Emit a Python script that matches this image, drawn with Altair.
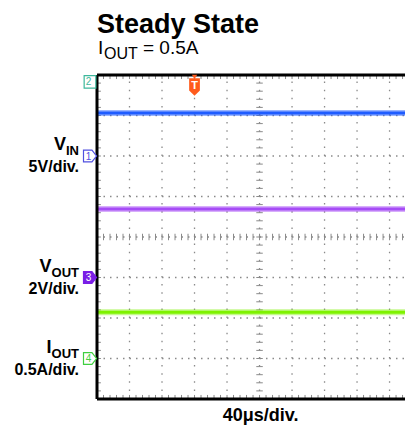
import altair as alt
import pandas as pd

# ---------------- values (scope screenshot) ----------------
trace_names = ["VIN", "VOUT", "IOUT"]
trace_levels = [5.3, 3.38, 0.57]           # V, V, A  (flat steady-state traces)
trace_per_div = [5.0, 2.0, 0.5]            # channel scale per division
trace_ground_div = [2.0, -1.0, -3.0]       # channel ground markers (divisions)
trace_colors = ["#1f5cff", "#a64cf6", "#7ef200"]
time_span_us = [0.0, 379.0]                # visible part of the 40us/div sweep

grid_time_us = [40, 80, 120, 160, 200, 240, 280, 320, 360]
grid_div = [-3, -2, -1, 0, 1, 2, 3]

marker_ids = ["2", "1", "3", "4"]
marker_div = [3.83, 2.0, -1.0, -3.0]
marker_colors = ["#3db89c", "#5050e0", "#7a1ee6", "#3fcf3f"]
marker_fills = ["white", "white", "#7a1ee6", "white"]
marker_text_colors = ["#3db89c", "#5050e0", "white", "#3fcf3f"]

label_main = ["V", "V", "I"]
label_sub = ["IN", "OUT", "OUT"]
label_scale = ["5V/div.", "2V/div.", "0.5A/div."]
label_ground_div = [2.0, -1.0, -3.0]

trigger_us = [120.0]

title_text = "Steady State"
subtitle_parts = ["I", "OUT", "= 0.5A"]
time_div_text = "40\u03bcs/div."

# ---------------- layout helpers ----------------
PLOT_W, PLOT_H = 308, 324
T_END = time_span_us[1]
US_PER_PX = T_END / PLOT_W
FONT = "Liberation Sans"

xs = alt.Scale(domain=[0, T_END], nice=False, zero=False)
ys = alt.Scale(domain=[-4, 4], nice=False, zero=False)


def X(f):
    return alt.X(f, scale=xs, axis=None)


def Y(f):
    return alt.Y(f, scale=ys, axis=None)


# dotted graticule
gv = pd.DataFrame({"x": grid_time_us, "x2": grid_time_us,
                   "y": [-4.0] * len(grid_time_us), "y2": [4.0] * len(grid_time_us)})
gh = pd.DataFrame({"x": [0.0] * len(grid_div), "x2": [T_END] * len(grid_div),
                   "y": grid_div, "y2": grid_div})
grid_v = alt.Chart(gv).mark_rule(color="#8a8a8a", strokeWidth=1.3, strokeDash=[1.5, 6.6]).encode(
    x=X("x:Q"), x2="x2:Q", y=Y("y:Q"), y2="y2:Q")
grid_h = alt.Chart(gh).mark_rule(color="#8a8a8a", strokeWidth=1.3, strokeDash=[1.5, 5.0]).encode(
    x=X("x:Q"), x2="x2:Q", y=Y("y:Q"), y2="y2:Q")

# minor division ticks (center cross and borders)
minor_x = [i * 8.0 for i in range(48)]
minor_y = [-4 + i * 0.2 for i in range(41)]
tk = []
for mx in minor_x:
    tk.append({"x": mx, "x2": mx, "y": -0.08, "y2": 0.08})
    tk.append({"x": mx, "x2": mx, "y": 4.0, "y2": 3.9})
    tk.append({"x": mx, "x2": mx, "y": -4.0, "y2": -3.9})
for my in minor_y:
    tk.append({"x": 196.0, "x2": 204.0, "y": my, "y2": my})
    tk.append({"x": 0.0, "x2": 4.8, "y": my, "y2": my})
ticks = alt.Chart(pd.DataFrame(tk)).mark_rule(color="#8a8a8a", strokeWidth=1).encode(
    x=X("x:Q"), x2="x2:Q", y=Y("y:Q"), y2="y2:Q")

# traces
rows = []
for n, lvl, pdv, g, c in zip(trace_names, trace_levels, trace_per_div, trace_ground_div, trace_colors):
    for t in time_span_us:
        rows.append({"name": n, "t": t, "pos": g + lvl / pdv, "color": c})
traces = pd.DataFrame(rows)
halo = alt.Chart(traces).mark_line(strokeWidth=6, opacity=0.45, clip=True).encode(
    x=X("t:Q"), y=Y("pos:Q"), color=alt.Color("color:N", scale=None), detail="name:N")
core = alt.Chart(traces).mark_line(strokeWidth=3, clip=True).encode(
    x=X("t:Q"), y=Y("pos:Q"), color=alt.Color("color:N", scale=None), detail="name:N")

# frame (left, top, bottom)
frame = alt.Chart(pd.DataFrame([
    {"x": 0.0, "x2": 0.0, "y": -4.0, "y2": 4.0},
    {"x": 0.0, "x2": T_END, "y": 4.0, "y2": 4.0},
    {"x": 0.0, "x2": T_END, "y": -4.0, "y2": -4.0},
])).mark_rule(color="black", strokeWidth=3).encode(
    x=X("x:Q"), x2="x2:Q", y=Y("y:Q"), y2="y2:Q")

# channel markers
pent = "M-1,-0.9 L0.3,-0.9 L1,0 L0.3,0.9 L-1,0.9 Z"
box = "M-0.9,-0.95 L0.9,-0.95 L0.9,0.95 L-0.9,0.95 Z"
mk = pd.DataFrame({
    "id": marker_ids, "pos": marker_div, "stroke": marker_colors,
    "fill": marker_fills, "tcolor": marker_text_colors,
    "shape": [box, pent, pent, pent],
    "x": [-7 * US_PER_PX] * 4, "tx": [-8.5 * US_PER_PX] * 4,
})
markers = alt.Chart(mk).mark_point(filled=True, size=169, strokeWidth=1.2, opacity=1).encode(
    x=X("x:Q"), y=Y("pos:Q"),
    shape=alt.Shape("shape:N", scale=None),
    fill=alt.Fill("fill:N", scale=None),
    stroke=alt.Stroke("stroke:N", scale=None),
)
marker_txt = alt.Chart(mk).mark_text(font=FONT, fontSize=10, baseline="middle", align="center", dy=0.5).encode(
    x=X("tx:Q"), y=Y("pos:Q"), text="id:N", color=alt.Color("tcolor:N", scale=None))

# trigger marker
trig = pd.DataFrame({"t": trigger_us, "lab": ["T"]})
shield = "M-0.62,-1 L0.62,-1 L0.62,0.4 L0,1 L-0.62,0.4 Z"
trig_mark = alt.Chart(trig).mark_point(filled=True, size=300, shape=shield, color="#ff5b1c", opacity=1).encode(
    x=X("t:Q"), y=alt.value(12))
trig_tip = alt.Chart(trig).mark_point(filled=True, size=28, shape="triangle-down", color="#ff5b1c", opacity=1).encode(
    x=X("t:Q"), y=alt.value(2))
trig_txt = alt.Chart(trig).mark_text(font=FONT, fontSize=11, fontWeight="bold", color="white", baseline="middle").encode(
    x=X("t:Q"), y=alt.value(11), text="lab:N")

# channel labels on the left
SUB_PX = 13
MAIN_PX = 18


def sub_width(s):
    w = {"I": 0.278, "N": 0.722, "O": 0.778, "U": 0.722, "T": 0.611}
    return sum(w[ch] for ch in s) * SUB_PX


RIGHT_PX = -18
lab = pd.DataFrame({
    "main": label_main, "sub": label_sub, "scale": label_scale, "pos": label_ground_div,
    "x_sub": [RIGHT_PX * US_PER_PX] * 3,
    "x_main": [(RIGHT_PX - sub_width(s)) * US_PER_PX for s in label_sub],
})
lab_main = alt.Chart(lab).mark_text(font=FONT, fontSize=MAIN_PX, fontWeight="bold", align="right",
                                    baseline="alphabetic", dy=-6, color="black").encode(
    x=X("x_main:Q"), y=Y("pos:Q"), text="main:N")
lab_sub = alt.Chart(lab).mark_text(font=FONT, fontSize=SUB_PX, fontWeight="bold", align="right",
                                   baseline="alphabetic", dy=-1, color="black").encode(
    x=X("x_sub:Q"), y=Y("pos:Q"), text="sub:N")
lab_scale = alt.Chart(lab).mark_text(font=FONT, fontSize=16, fontWeight="bold", align="right",
                                     baseline="alphabetic", dy=16, color="black").encode(
    x=X("x_sub:Q"), y=Y("pos:Q"), text="scale:N")


# title, subtitle  I_OUT = 0.5A, time base
def one_text(txt, xpx, ypx, size, weight="normal"):
    return alt.Chart(pd.DataFrame({"s": [txt]})).mark_text(
        font=FONT, fontSize=size, fontWeight=weight, align="left", baseline="alphabetic",
        color="black").encode(x=alt.value(xpx), y=alt.value(ypx), text="s:N")


title = one_text(title_text, 0, -42, 27, "bold")
sub1 = one_text(subtitle_parts[0], 1, -21, 19)
sub2 = one_text(subtitle_parts[1], 7, -16, 16)
sub3 = one_text(subtitle_parts[2], 46, -21, 19)
timebase = alt.Chart(pd.DataFrame({"s": [time_div_text], "t": [200.0]})).mark_text(
    font=FONT, fontSize=18, fontWeight="bold", align="center", baseline="alphabetic",
    color="black", dx=1).encode(x=X("t:Q"), y=alt.value(PLOT_H + 22), text="s:N")

chart = alt.layer(
    grid_v, grid_h, ticks, halo, core, frame, markers, marker_txt, trig_mark, trig_tip, trig_txt,
    lab_main, lab_sub, lab_scale, title, sub1, sub2, sub3, timebase,
).properties(
    width=PLOT_W, height=PLOT_H,
    autosize=alt.AutoSizeParams(type="none"),
    padding={"left": 89, "top": 67, "right": 0, "bottom": 26},
).configure_view(stroke=None)

chart.save("out.html", embed_options={"renderer": "svg", "actions": False})
